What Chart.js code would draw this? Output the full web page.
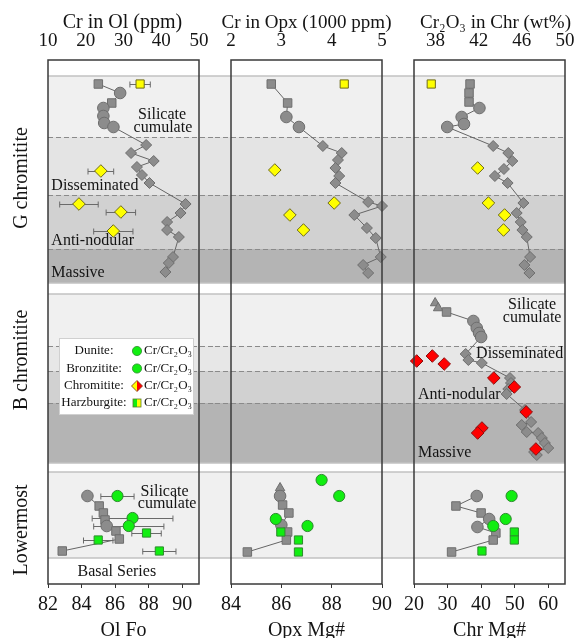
<!DOCTYPE html>
<html>
<head>
<meta charset="utf-8">
<script src="https://cdn.jsdelivr.net/npm/chart.js@4.4.1/dist/chart.umd.min.js"></script>
<style>
  html, body { margin: 0; padding: 0; background: #fff; }
  #wrap { position: relative; width: 574px; height: 638px; overflow: hidden; }
  canvas { position: absolute; top: 0; }
</style>
</head>
<body>
<div id="wrap">
  <canvas id="ol" width="215" height="638" style="left:0px"></canvas>
  <canvas id="opx" width="183" height="638" style="left:215px"></canvas>
  <canvas id="chr" width="176" height="638" style="left:398px"></canvas>
</div>
<script>
const FONT = '"Liberation Serif", "Times New Roman", serif';
Chart.defaults.font.family = FONT;
Chart.defaults.color = '#141414';

// stratigraphic position: 0 = top of column, 524 = base (relative units)
const gZones = [16, 77, 135, 189, 223];   // silicate cumulate / disseminated / anti-nodular / massive
const bZones = [234, 286, 311, 343, 403];
const lZones = [412, 498];                // lowermost silicate cumulate, basal series below

// rock codes: H harzburgite, D dunite, B bronzitite, C chromitite

// ---- olivine ----
const olTopTicks = [10, 20, 30, 40, 50];
const olBottomTicks = [82, 84, 86, 88, 90];
const olGDepth = [24, 33, 43, 48, 56, 63, 67, 85, 93, 101, 107, 115, 123, 144, 153, 162, 170, 177, 197, 203, 212];
const olGFo = [85.0, 86.3, 85.8, 85.3, 85.3, 85.35, 85.9, 87.85, 86.95, 88.3, 87.3, 87.6, 88.05, 90.2, 89.9, 89.1, 89.1, 89.8, 89.45, 89.2, 89.0];
const olGRock = ['H','D','H','D','D','D','D','C','C','C','C','C','C','C','C','C','C','C','C','C','C'];
const olGCrDepth = [24, 111, 144, 152, 171];
const olGCr = [34.4, 24.0, 18.2, 29.3, 27.3];
const olGCrErr = [2.7, 3.4, 5.1, 3.9, 5.2];
const olGCrRock = ['H','C','C','C','C'];
const olLDepth = [436, 446, 453, 460, 466, 471, 479, 491];
const olLFo = [84.35, 85.05, 85.3, 85.4, 85.5, 86.05, 86.25, 82.85];
const olLRock = ['D','H','H','H','D','H','H','H'];
const olLCrDepth = [436, 458, 466, 473, 480, 491];
const olLCr = [28.4, 32.4, 31.4, 36.1, 23.3, 39.5];
const olLCrErr = [4.4, 10.7, 9.3, 3.9, 3.9, 4.4];
const olLCrRock = ['D','D','D','H','H','H'];

// ---- orthopyroxene ----
const opxTopTicks = [2, 3, 4, 5];
const opxBottomTicks = [84, 86, 88, 90];
const opxGDepth = [24, 43, 57, 67, 86, 93, 100, 108, 116, 123, 142, 146, 155, 168, 178, 197, 205, 213];
const opxGMg = [85.6, 86.25, 86.2, 86.7, 87.65, 88.4, 88.25, 88.15, 88.3, 88.15, 89.45, 90.0, 88.9, 89.4, 89.75, 89.95, 89.25, 89.45];
const opxGRock = ['H','H','D','D','C','C','C','C','C','C','C','C','C','C','C','C','C','C'];
const opxGCrDepth = [24, 110, 143, 155, 170];
const opxGCr = [4.25, 2.87, 4.05, 3.17, 3.44];
const opxGCrRock = ['H','C','C','C','C'];
const opxLDepth = [428, 436, 445, 453, 465, 472, 480, 492];
const opxLMg = [85.95, 85.95, 86.05, 86.3, 86.0, 86.25, 86.2, 84.65];
const opxLRock = ['B','D','H','H','D','H','H','H'];
const opxLCrDepth = [420, 436, 459, 466, 472, 480, 492];
const opxLCr = [3.80, 4.15, 2.89, 3.52, 2.99, 3.34, 3.34];
const opxLCrRock = ['B','B','D','D','H','H','H'];

// ---- chromite ----
const chrTopTicks = [38, 42, 46, 50];
const chrBottomTicks = [20, 30, 40, 50, 60];
const chrGDepth = [24, 33, 42, 48, 57, 64, 67, 86, 93, 101, 109, 116, 123, 143, 153, 162, 170, 177, 197, 205, 213];
const chrGMg = [36.7, 36.4, 36.4, 39.5, 34.2, 34.9, 29.9, 43.6, 48.1, 49.3, 46.8, 44.1, 47.9, 52.6, 50.6, 51.8, 52.3, 53.6, 54.6, 52.9, 54.4];
const chrGRock = ['H','H','H','D','D','D','D','C','C','C','C','C','C','C','C','C','C','C','C','C','C'];
const chrGCrDepth = [24, 108, 143, 155, 170];
const chrGCr = [37.6, 41.9, 42.9, 44.4, 44.3];
const chrGCrRock = ['H','C','C','C','C'];
const chrBDepth = [243, 248, 252, 261, 268, 273, 277, 294, 300, 303, 318, 323, 329, 334, 350, 362, 365, 372, 373, 378, 383, 388, 392, 395];
const chrBMg = [26.3, 27.2, 29.7, 37.7, 38.7, 39.4, 40.0, 35.4, 36.2, 40.2, 48.6, 48.9, 48.1, 47.6, 53.1, 54.9, 52.1, 53.6, 57.0, 58.1, 59.0, 60.0, 55.8, 56.6];
const chrBRock = ['B','B','H','D','D','D','D','C','C','C','C','C','C','C','C','C','C','C','C','C','C','C','C','C'];
const chrBCrDepth = [296, 301, 304, 318, 327, 352, 368, 373, 389];
const chrBCr = [37.7, 36.25, 38.8, 43.4, 45.3, 46.4, 42.3, 41.9, 47.3];
const chrBCrRock = ['C','C','C','C','C','C','C','C','C'];
const chrLDepth = [436, 446, 453, 459, 467, 473, 480, 492];
const chrLMg = [38.7, 32.5, 40.0, 42.4, 38.9, 44.4, 43.6, 31.2];
const chrLRock = ['D','H','H','D','D','H','H','H'];
const chrLCrDepth = [436, 459, 466, 472, 480, 491];
const chrLCr = [45.05, 44.5, 43.35, 45.3, 45.3, 42.3];
const chrLCrRock = ['D','D','D','H','H','H'];

// styles
const gFills = ['#f0f0f0', '#e4e4e4', '#d1d1d1', '#b4b4b4'];
const bFills = ['#f0f0f0', '#e7e7e7', '#d1d1d1', '#b4b4b4'];
const lFills = ['#f0f0f0'];
const grayShape = { H: 'rect', D: 'circle', B: 'triangle', C: 'rectRot' };
const graySize = { H: 6, D: 5.8, B: 5.5, C: 5.5 };
const colShape = { H: 'rect', D: 'circle', B: 'circle', C: 'rectRot' };
const colSize = { H: 5.8, D: 5.6, B: 5.6, C: 6.3 };
const YELLOW = ['#ffff00', '#6e6a1c'];
const RED = ['#ff0000', '#8a1010'];
const GREEN = ['#11ee11', '#2f8a2f'];

const pts = (depth, vals) => depth.map((d, i) => ({ x: vals[i], y: d }));

function grayTrace(depth, vals, rocks) {
  return {
    data: pts(depth, vals), xAxisID: 'x', showLine: true, clip: false,
    borderColor: '#666', borderWidth: 1,
    pointStyle: rocks.map(r => grayShape[r]),
    pointRadius: rocks.map(r => graySize[r]),
    pointBackgroundColor: '#8c8c8c', pointBorderColor: '#6e6e6e', pointBorderWidth: 1
  };
}

function crTrace(depth, vals, rocks, colors, errs) {
  return {
    data: pts(depth, vals), xAxisID: 'xt', showLine: false, clip: false, errs,
    pointStyle: rocks.map(r => colShape[r]),
    pointRadius: rocks.map(r => colSize[r]),
    pointBackgroundColor: colors[0], pointBorderColor: colors[1], pointBorderWidth: 1
  };
}

function axes(topMin, topMax, topTicks, botMin, botMax, botTicks, botTitle) {
  return {
    y: { display: false, min: 0, max: 524, reverse: true },
    xt: {
      type: 'linear', position: 'top', min: topMin, max: topMax,
      afterBuildTicks: s => { s.ticks = topTicks.map(v => ({ value: v })); },
      afterFit: s => { s.height = 60; s.paddingLeft = 0; s.paddingRight = 0; },
      grid: { display: false }, border: { display: false },
      ticks: { font: { size: 19 }, padding: 0, maxRotation: 0, autoSkip: false }
    },
    x: {
      type: 'linear', position: 'bottom', min: botMin, max: botMax,
      afterBuildTicks: s => { s.ticks = botTicks.map(v => ({ value: v })); },
      afterFit: s => { s.height = 54; s.paddingLeft = 0; s.paddingRight = 0; },
      grid: { display: true, drawOnChartArea: false, drawTicks: true, tickLength: 4, color: '#333' },
      border: { display: false },
      ticks: { font: { size: 20 }, padding: 5, maxRotation: 0, autoSkip: false },
      title: { display: true, text: botTitle, font: { size: 20, lineHeight: '14px' }, padding: 0 }
    }
  };
}

function line(ctx, x0, x1, y) {
  ctx.beginPath(); ctx.moveTo(x0, y); ctx.lineTo(x1, y); ctx.stroke();
}

function strataPlugin(deco) {
  return {
    id: 'strata',
    beforeDatasetsDraw(chart) {
      const { ctx, chartArea: a, scales: { y } } = chart;
      const x0 = deco.extendLeft ? 0 : a.left;
      const x1 = deco.extendRight ? chart.width : a.right;
      ctx.save();
      [[gZones, gFills], [bZones, bFills], [lZones, lFills]].forEach(([z, fills]) => {
        fills.forEach((f, i) => {
          const t = y.getPixelForValue(z[i]), b = y.getPixelForValue(z[i + 1]);
          ctx.fillStyle = f;
          ctx.fillRect(x0, t, x1 - x0, b - t);
        });
        ctx.setLineDash([]); ctx.strokeStyle = '#c2c2c2'; ctx.lineWidth = 1.5;
        line(ctx, x0, x1, y.getPixelForValue(z[0]));
        line(ctx, x0, x1, y.getPixelForValue(z[z.length - 1]));
        ctx.setLineDash([5, 3]); ctx.strokeStyle = '#8a8a8a'; ctx.lineWidth = 1;
        z.slice(1, -1).forEach(v => line(ctx, x0, x1, Math.round(y.getPixelForValue(v)) + 0.5));
      });
      // horizontal error bars
      ctx.setLineDash([]); ctx.strokeStyle = '#6a6a6a'; ctx.lineWidth = 1;
      chart.data.datasets.forEach(ds => {
        if (!ds.errs) return;
        const sx = chart.scales[ds.xAxisID];
        ds.data.forEach((p, j) => {
          const xa = sx.getPixelForValue(p.x - ds.errs[j]);
          const xb = sx.getPixelForValue(p.x + ds.errs[j]);
          const py = Math.round(y.getPixelForValue(p.y)) + 0.5;
          line(ctx, xa, xb, py);
          ctx.beginPath();
          ctx.moveTo(xa, py - 3); ctx.lineTo(xa, py + 3);
          ctx.moveTo(xb, py - 3); ctx.lineTo(xb, py + 3);
          ctx.stroke();
        });
      });
      ctx.restore();
    },
    afterDatasetsDraw(chart) {
      const { ctx, chartArea: a, scales: { x, y } } = chart;
      ctx.save();
      ctx.fillStyle = '#141414';
      ctx.textBaseline = 'middle';
      // top axis title, drawn without width limit
      ctx.font = deco.titleSize + 'px ' + FONT;
      ctx.textAlign = 'center';
      ctx.fillText(deco.title, (a.left + a.right) / 2 + (deco.titleShift || 0), 23);
      ctx.font = '16px ' + FONT;
      (deco.notes || []).forEach(n => {
        ctx.textAlign = n.align || 'center';
        ctx.fillText(n.t, x.getPixelForValue(n.x), y.getPixelForValue(n.y));
      });
      ctx.font = '20px ' + FONT;
      ctx.textAlign = 'center';
      (deco.rows || []).forEach(r => {
        ctx.save();
        ctx.translate(22, y.getPixelForValue(r.y));
        ctx.rotate(-Math.PI / 2);
        ctx.fillText(r.t, 0, 0);
        ctx.restore();
      });
      ctx.strokeStyle = '#3a3a3a'; ctx.lineWidth = 1.5;
      ctx.strokeRect(a.left, a.top, a.right - a.left, a.bottom - a.top);
      if (deco.legend) drawLegend(ctx);
      ctx.restore();
    }
  };
}

function drawLegend(ctx) {
  ctx.fillStyle = '#fff'; ctx.strokeStyle = '#d0d0d0'; ctx.lineWidth = 1;
  ctx.fillRect(59, 338, 134, 76); ctx.strokeRect(59.5, 338.5, 134, 76);
  const rows = [['Dunite:', 351], ['Bronzitite:', 368.5], ['Chromitite:', 386], ['Harzburgite:', 403]];
  ctx.font = '13px ' + FONT; ctx.textBaseline = 'middle';
  rows.forEach(([t, yy], i) => {
    ctx.fillStyle = '#141414';
    ctx.textAlign = 'center'; ctx.fillText(t, 94, yy);
    ctx.textAlign = 'left'; ctx.fillText('Cr/Cr\u2082O\u2083', 144, yy);
    const cx = 137;
    ctx.lineWidth = 0.8;
    if (i < 2) {
      ctx.beginPath(); ctx.arc(cx, yy, 4.6, 0, Math.PI * 2);
      ctx.fillStyle = GREEN[0]; ctx.fill(); ctx.strokeStyle = GREEN[1]; ctx.stroke();
    } else if (i === 2) {
      ctx.beginPath(); ctx.moveTo(cx, yy - 5.5); ctx.lineTo(cx - 5.5, yy); ctx.lineTo(cx, yy + 5.5); ctx.closePath();
      ctx.fillStyle = YELLOW[0]; ctx.fill();
      ctx.beginPath(); ctx.moveTo(cx, yy - 5.5); ctx.lineTo(cx + 5.5, yy); ctx.lineTo(cx, yy + 5.5); ctx.closePath();
      ctx.fillStyle = RED[0]; ctx.fill();
      ctx.beginPath(); ctx.moveTo(cx, yy - 5.5); ctx.lineTo(cx + 5.5, yy); ctx.lineTo(cx, yy + 5.5); ctx.lineTo(cx - 5.5, yy); ctx.closePath();
      ctx.strokeStyle = '#7a2a10'; ctx.stroke();
    } else {
      ctx.fillStyle = GREEN[0]; ctx.fillRect(cx - 4, yy - 4, 4, 8);
      ctx.fillStyle = YELLOW[0]; ctx.fillRect(cx, yy - 4, 4, 8);
      ctx.strokeStyle = '#5a7a2a'; ctx.strokeRect(cx - 4, yy - 4, 8, 8);
    }
  });
}

function makeChart(id, scales, datasets, deco) {
  return new Chart(document.getElementById(id), {
    type: 'scatter',
    data: { datasets },
    options: {
      responsive: false, animation: false, events: [],
      layout: { padding: deco.pad },
      plugins: { legend: { display: false }, tooltip: { enabled: false } },
      scales
    },
    plugins: [strataPlugin(deco)]
  });
}

makeChart('ol',
  axes(10, 50, olTopTicks, 82, 91, olBottomTicks, 'Ol Fo'),
  [
    crTrace(olGCrDepth, olGCr, olGCrRock, YELLOW, olGCrErr),
    crTrace(olLCrDepth, olLCr, olLCrRock, GREEN, olLCrErr),
    grayTrace(olGDepth, olGFo, olGRock),
    grayTrace(olLDepth, olLFo, olLRock)
  ],
  {
    pad: { left: 48, right: 16, top: 0, bottom: 0 }, extendLeft: false, extendRight: true, legend: true,
    title: 'Cr in Ol (ppm)', titleSize: 20, titleShift: -1,
    rows: [{ t: 'G chromitite', y: 118 }, { t: 'B chromitite', y: 300 }, { t: 'Lowermost', y: 470 }],
    notes: [
      { t: 'Silicate', x: 88.8, y: 55 }, { t: 'cumulate', x: 88.85, y: 68 },
      { t: 'Disseminated', x: 82.2, y: 126, align: 'left' },
      { t: 'Anti-nodular', x: 82.2, y: 181, align: 'left' },
      { t: 'Massive', x: 82.2, y: 213, align: 'left' },
      { t: 'Silicate', x: 88.95, y: 432 }, { t: 'cumulate', x: 89.1, y: 444 },
      { t: 'Basal Series', x: 86.1, y: 512 }
    ]
  });

makeChart('opx',
  axes(2, 5, opxTopTicks, 84, 90, opxBottomTicks, 'Opx Mg#'),
  [
    crTrace(opxGCrDepth, opxGCr, opxGCrRock, YELLOW),
    crTrace(opxLCrDepth, opxLCr, opxLCrRock, GREEN),
    grayTrace(opxGDepth, opxGMg, opxGRock),
    grayTrace(opxLDepth, opxLMg, opxLRock)
  ],
  {
    pad: { left: 16, right: 16, top: 0, bottom: 0 }, extendLeft: true, extendRight: true,
    title: 'Cr in Opx (1000 ppm)', titleSize: 19, titleShift: 0
  });

makeChart('chr',
  axes(36, 50, chrTopTicks, 20, 65, chrBottomTicks, 'Chr Mg#'),
  [
    crTrace(chrGCrDepth, chrGCr, chrGCrRock, YELLOW),
    crTrace(chrBCrDepth, chrBCr, chrBCrRock, RED),
    crTrace(chrLCrDepth, chrLCr, chrLCrRock, GREEN),
    grayTrace(chrGDepth, chrGMg, chrGRock),
    grayTrace(chrBDepth, chrBMg, chrBRock),
    grayTrace(chrLDepth, chrLMg, chrLRock)
  ],
  {
    pad: { left: 16, right: 9, top: 0, bottom: 0 }, extendLeft: true, extendRight: false,
    title: 'Cr\u2082O\u2083 in Chr (wt%)', titleSize: 19, titleShift: 6,
    notes: [
      { t: 'Silicate', x: 55.2, y: 244.5 }, { t: 'cumulate', x: 55.2, y: 258 },
      { t: 'Disseminated', x: 38.5, y: 294, align: 'left' },
      { t: 'Anti-nodular', x: 21.2, y: 335, align: 'left' },
      { t: 'Massive', x: 21.2, y: 393, align: 'left' }
    ]
  });
</script>
</body>
</html>
